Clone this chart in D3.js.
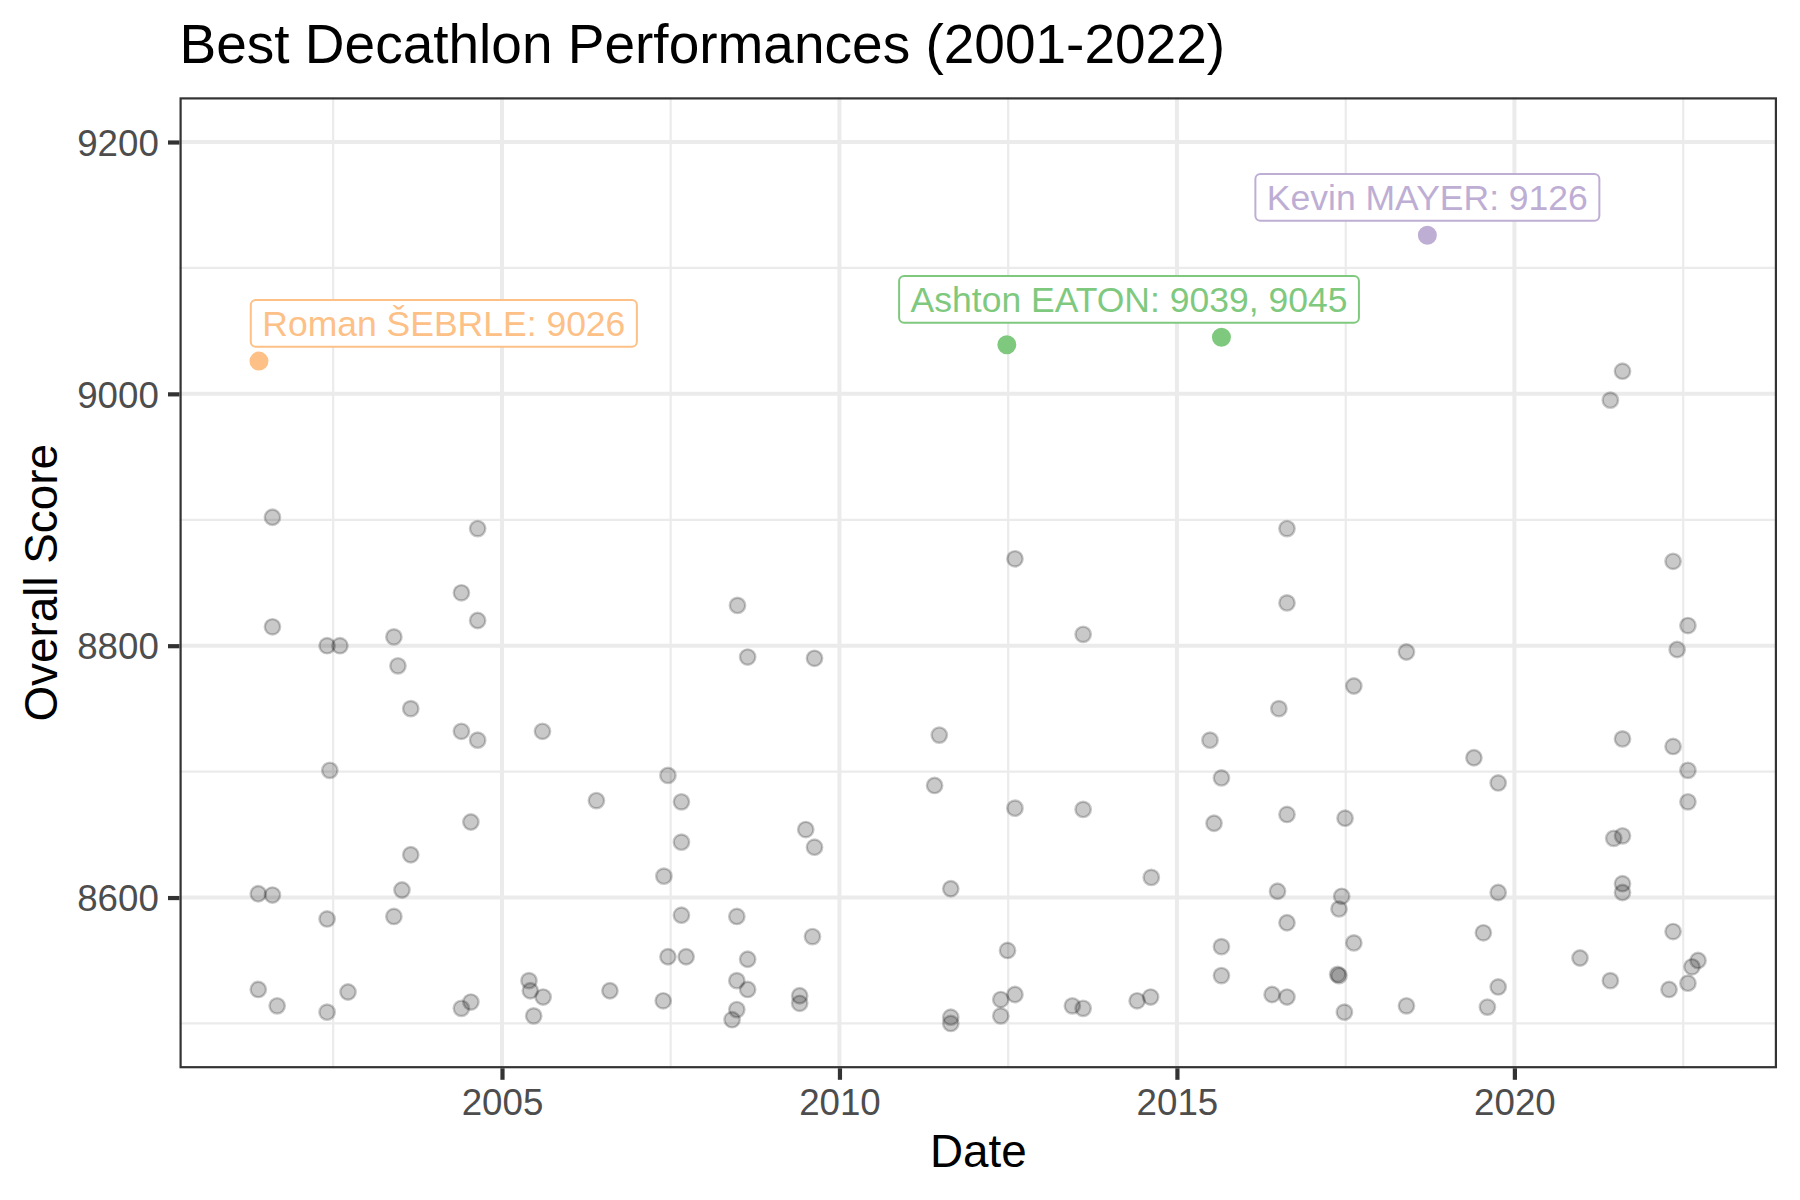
<!DOCTYPE html>
<html>
<head>
<meta charset="utf-8">
<script src="https://cdn.jsdelivr.net/npm/d3@7"></script>
<style>
  body { margin: 0; background: #fff; }
  svg text { font-family: "Liberation Sans", Arial, Helvetica, sans-serif; }
</style>
</head>
<body>
<svg id="chart" width="1800" height="1200"></svg>
<script>
"use strict";

// every other performance: decimal year of the meeting and overall score
const perfYears = [
  2001.60, 2004.64, 2004.40, 2004.64, 2001.60, 2002.41, 2002.60, 2003.40, 2003.46, 2003.65,
  2004.40, 2004.64, 2005.60, 2002.45, 2006.40, 2004.54, 2003.65, 2001.39, 2001.60, 2003.52,
  2002.41, 2003.40, 2007.66, 2008.48, 2007.46, 2007.73, 2008.64, 2001.39, 2001.67, 2002.41,
  2002.72, 2004.40, 2004.54, 2005.40, 2005.42, 2005.61, 2005.47, 2006.60, 2007.39, 2008.48,
  2008.64, 2008.48, 2008.41, 2009.41, 2009.41, 2012.60, 2008.49, 2013.61, 2008.64, 2009.63,
  2011.48, 2007.46, 2007.66, 2011.41, 2012.60, 2013.61, 2009.50, 2009.63, 2007.66, 2007.40,
  2011.65, 2009.60, 2012.49, 2016.49, 2017.44, 2019.76, 2017.40, 2016.63, 2019.54, 2017.62,
  2015.66, 2015.66, 2017.38, 2017.40, 2019.76, 2012.60, 2012.39, 2012.39, 2011.65, 2011.65,
  2013.45, 2013.61, 2014.41, 2014.61, 2016.41, 2016.63, 2017.48, 2018.40, 2019.60, 2016.63,
  2016.63, 2018.40, 2017.62, 2016.51, 2015.49, 2019.40, 2019.76, 2015.66, 2015.55, 2016.63,
  2017.49, 2014.62, 2022.35, 2022.57, 2022.41, 2021.60, 2022.35, 2022.57, 2022.57, 2021.47,
  2021.60, 2021.60, 2021.60, 2022.35, 2020.97, 2022.72, 2022.63, 2021.42, 2022.57, 2022.29,
  2021.60, 2021.42
];
const perfScores = [
  8902, 8893, 8842, 8820, 8815, 8800, 8800, 8807, 8784, 8750,
  8732, 8725, 8732, 8701, 8677, 8660, 8634, 8603, 8602, 8606,
  8583, 8585, 8586, 8585, 8553, 8553, 8551, 8527, 8514, 8509,
  8525, 8512, 8517, 8534, 8526, 8521, 8506, 8526, 8518, 8534,
  8527, 8511, 8503, 8522, 8516, 8869, 8832, 8809, 8791, 8790,
  8729, 8697, 8676, 8689, 8671, 8670, 8654, 8640, 8644, 8617,
  8607, 8569, 8558, 8605, 8601, 8604, 8591, 8580, 8572, 8564,
  8561, 8538, 8539, 8538, 8529, 8523, 8519, 8506, 8505, 8500,
  8514, 8512, 8518, 8521, 8523, 8521, 8509, 8514, 8513, 8893,
  8834, 8795, 8768, 8750, 8725, 8711, 8691, 8695, 8659, 8666,
  8663, 8616, 8867, 8816, 8797, 8726, 8720, 8701, 8676, 8647,
  8649, 8611, 8604, 8573, 8552, 8550, 8545, 8534, 8532, 8527,
  9018, 8995
];

// the 9000+ performances that get a colour and a label
const starAthletes = ["Roman ŠEBRLE", "Ashton EATON", "Ashton EATON", "Kevin MAYER"];
const starYears = [2001.40, 2012.48, 2015.66, 2018.71];
const starScores = [9026, 9039, 9045, 9126];

// where each label sits (year of its centre), labels are lifted by labelNudge points
const labelAthletes = ["Roman ŠEBRLE", "Ashton EATON", "Kevin MAYER"];
const labelYears = [2004.14, 2014.29, 2018.71];
const labelNudge = 30;

// axis breaks
const yMajor = [8600, 8800, 9000, 9200];
const yMinor = [8500, 8700, 8900, 9100];
const xMajorYears = [2005, 2010, 2015, 2020];
const xMinorYears = [2002.5, 2007.5, 2012.5, 2017.5, 2022.5];

const athleteColors = {
  "Roman ŠEBRLE": "#FDC086",
  "Ashton EATON": "#7FC97F",
  "Kevin MAYER": "#BEAED4"
};

function yearToDate(y) {
  const yr = Math.floor(y);
  const start = Date.UTC(yr, 0, 1);
  const end = Date.UTC(yr + 1, 0, 1);
  return new Date(start + (y - yr) * (end - start));
}

document.addEventListener("DOMContentLoaded", function() {
  drawChart();
});

function drawChart() {
  const svg = d3.select("#chart");
  const panel = {left: 179.5, right: 1777, top: 97.3, bottom: 1068.3};

  const x = d3.scaleUtc()
    .domain([new Date(Date.UTC(2000, 2, 23)), new Date(Date.UTC(2023, 10, 22))])
    .range([panel.left, panel.right]);
  const y = d3.scaleLinear()
    .domain([8464.4, 9235.5])
    .range([panel.bottom, panel.top]);

  // title
  svg.append("text")
    .attr("x", panel.left)
    .attr("y", 63)
    .style("font-size", "55px")
    .attr("fill", "#000")
    .text("Best Decathlon Performances (2001-2022)");

  // grid lines, minor first
  const grid = svg.append("g");
  grid.selectAll(".gy-minor")
    .data(yMinor).enter().append("line")
    .attr("x1", panel.left).attr("x2", panel.right)
    .attr("y1", d => y(d)).attr("y2", d => y(d))
    .attr("stroke", "#EBEBEB").attr("stroke-width", 2.2);
  grid.selectAll(".gx-minor")
    .data(xMinorYears).enter().append("line")
    .attr("y1", panel.top).attr("y2", panel.bottom)
    .attr("x1", d => x(yearToDate(d))).attr("x2", d => x(yearToDate(d)))
    .attr("stroke", "#EBEBEB").attr("stroke-width", 2.2);
  grid.selectAll(".gy-major")
    .data(yMajor).enter().append("line")
    .attr("x1", panel.left).attr("x2", panel.right)
    .attr("y1", d => y(d)).attr("y2", d => y(d))
    .attr("stroke", "#EBEBEB").attr("stroke-width", 4);
  grid.selectAll(".gx-major")
    .data(xMajorYears).enter().append("line")
    .attr("y1", panel.top).attr("y2", panel.bottom)
    .attr("x1", d => x(yearToDate(d))).attr("x2", d => x(yearToDate(d)))
    .attr("stroke", "#EBEBEB").attr("stroke-width", 4);

  // grey points
  svg.append("g").selectAll("circle")
    .data(perfYears.map((yr, i) => ({date: yearToDate(yr), score: perfScores[i]})))
    .enter().append("circle")
    .attr("cx", d => x(d.date))
    .attr("cy", d => y(d.score))
    .attr("r", 7.7)
    .attr("fill", "rgba(0,0,0,0.21)")
    .attr("stroke", "rgba(0,0,0,0.21)")
    .attr("stroke-width", 2.4);

  // coloured points
  svg.append("g").selectAll("circle")
    .data(starYears.map((yr, i) => ({date: yearToDate(yr), score: starScores[i], who: starAthletes[i]})))
    .enter().append("circle")
    .attr("cx", d => x(d.date))
    .attr("cy", d => y(d.score))
    .attr("r", 8.3)
    .attr("fill", d => athleteColors[d.who])
    .attr("stroke", d => athleteColors[d.who])
    .attr("stroke-width", 2.4);

  // labels
  const labels = svg.append("g");
  labelAthletes.forEach((who, i) => {
    const scores = starScores.filter((s, j) => starAthletes[j] === who);
    const cx = x(yearToDate(labelYears[i]));
    const cy = y(d3.max(scores) + labelNudge);
    const g = labels.append("g");
    const rect = g.append("rect");
    const txt = g.append("text")
      .attr("x", cx)
      .attr("y", cy + 12.9)
      .attr("text-anchor", "middle")
      .style("font-size", "35.5px")
      .attr("fill", athleteColors[who])
      .text(who + ": " + scores.join(", "));
    const w = txt.node().getComputedTextLength() + 23;
    const h = 46.7;
    rect.attr("x", cx - w / 2).attr("y", cy - h / 2)
      .attr("width", w).attr("height", h)
      .attr("rx", 5).attr("ry", 5)
      .attr("fill", "#fff")
      .attr("stroke", athleteColors[who])
      .attr("stroke-width", 2);
  });

  // panel border (half of it is clipped away in the original)
  svg.append("rect")
    .attr("x", panel.left + 1.1).attr("y", panel.top + 1.1)
    .attr("width", panel.right - panel.left - 2.2)
    .attr("height", panel.bottom - panel.top - 2.2)
    .attr("fill", "none")
    .attr("stroke", "#333333")
    .attr("stroke-width", 2.2);

  // axes
  const yAxis = svg.append("g")
    .attr("transform", `translate(${panel.left},0)`)
    .call(d3.axisLeft(y)
      .tickValues(yMajor)
      .tickFormat(d3.format("d"))
      .tickSize(11.5).tickPadding(9.2));
  const xAxis = svg.append("g")
    .attr("transform", `translate(0,${panel.bottom})`)
    .call(d3.axisBottom(x)
      .tickValues(xMajorYears.map(yearToDate))
      .tickFormat(d3.utcFormat("%Y"))
      .tickSize(11.5).tickPadding(9.2));

  [xAxis, yAxis].forEach(ax => {
    ax.select(".domain").remove();
    ax.selectAll(".tick line").attr("stroke", "#333333").attr("stroke-width", 4.2);
    ax.selectAll(".tick text")
      .attr("fill", "#4D4D4D")
      .style("font-size", "36.7px")
      .style("font-family", "'Liberation Sans', Arial, sans-serif");
  });
  yAxis.selectAll(".tick text").attr("dy", "0.36em");

  // axis titles
  svg.append("text")
    .attr("x", (panel.left + panel.right) / 2)
    .attr("y", 1166.5)
    .attr("text-anchor", "middle")
    .style("font-size", "45.8px")
    .attr("fill", "#000")
    .text("Date");

  svg.append("text")
    .attr("transform", `translate(57,${(panel.top + panel.bottom) / 2}) rotate(-90)`)
    .attr("text-anchor", "middle")
    .style("font-size", "45.8px")
    .attr("fill", "#000")
    .text("Overall Score");
}
</script>
</body>
</html>
